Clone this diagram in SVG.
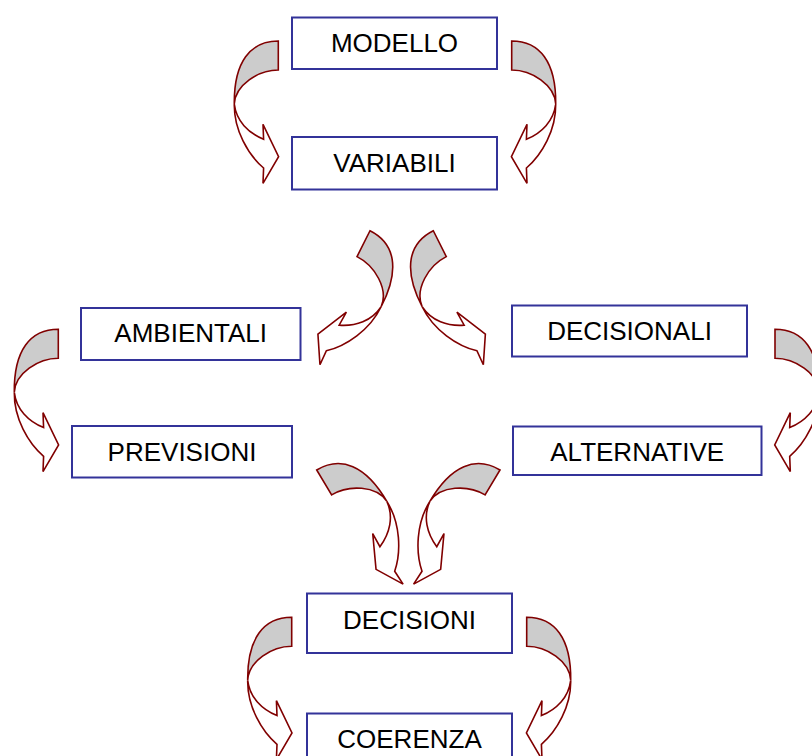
<svg xmlns="http://www.w3.org/2000/svg" xmlns:xlink="http://www.w3.org/1999/xlink" width="812" height="756" viewBox="0 0 812 756">
  <style>
    .box { fill: #ffffff; stroke: #333399; stroke-width: 2; }
    .label { font-family: "Liberation Sans", Arial, sans-serif; font-size: 26px; fill: #000000; text-anchor: middle; }
    .back { fill: #cccccc; stroke: #800000; stroke-width: 1.6; stroke-linejoin: miter; }
    .front { fill: #ffffff; stroke: #800000; stroke-width: 1.6; stroke-linejoin: miter; }
  </style>
  <defs>
    <!-- curved block arrow: band end at origin, sweeping left and pointing back right -->
    <g id="curl">
      <path class="back" d="M0,0 C-28,0 -44.5,21 -44,63 C-43,44 -20,29 0,29 Z"/>
      <path class="front" d="M-44,63 C-44.5,89 -30,114 -14.7,127 L-15.3,142.3 L0.3,115.7 L-15.3,83.3 L-14.7,98.3 C-30,92 -42,80 -44,63 Z"/>
    </g>
  </defs>

  <g id="connectors">
    <use xlink:href="#curl" href="#curl" transform="translate(278.3,41)"/>
    <use xlink:href="#curl" href="#curl" transform="translate(511.7,41) scale(-1,1)"/>
    <use xlink:href="#curl" href="#curl" transform="translate(370,230.7) rotate(26.6) scale(-1,1)"/>
    <use xlink:href="#curl" href="#curl" transform="translate(433.3,230.7) rotate(-26.6)"/>
    <use xlink:href="#curl" href="#curl" transform="translate(58.3,329.3)"/>
    <use xlink:href="#curl" href="#curl" transform="translate(775,329.3) scale(-1,1)"/>
    <use xlink:href="#curl" href="#curl" transform="translate(316.7,470) rotate(-31) scale(-1,1)"/>
    <use xlink:href="#curl" href="#curl" transform="translate(500,470) rotate(31)"/>
    <use xlink:href="#curl" href="#curl" transform="translate(291.7,617.3)"/>
    <use xlink:href="#curl" href="#curl" transform="translate(526.7,617.3) scale(-1,1)"/>
  </g>

  <g id="modello">
    <rect class="box" x="292" y="17.5" width="205" height="51.5"/>
    <text class="label" x="394.5" y="52.3">MODELLO</text>
  </g>
  <g id="variabili">
    <rect class="box" x="292" y="137" width="205" height="52.5"/>
    <text class="label" x="394.5" y="172.3">VARIABILI</text>
  </g>
  <g id="ambientali">
    <rect class="box" x="81" y="308" width="219.5" height="52"/>
    <text class="label" x="190.7" y="341.7">AMBIENTALI</text>
  </g>
  <g id="decisionali">
    <rect class="box" x="512" y="305.5" width="235" height="51"/>
    <text class="label" x="629.5" y="340">DECISIONALI</text>
  </g>
  <g id="previsioni">
    <rect class="box" x="72" y="426" width="220" height="51.5"/>
    <text class="label" x="182" y="460.7">PREVISIONI</text>
  </g>
  <g id="alternative">
    <rect class="box" x="513" y="426.5" width="248.5" height="48.5"/>
    <text class="label" x="637.2" y="460.7">ALTERNATIVE</text>
  </g>
  <g id="decisioni">
    <rect class="box" x="307" y="593.5" width="205" height="59.5"/>
    <text class="label" x="409.5" y="629">DECISIONI</text>
  </g>
  <g id="coerenza">
    <rect class="box" x="307" y="713.5" width="205" height="60"/>
    <text class="label" x="409.5" y="748.3">COERENZA</text>
  </g>
</svg>
